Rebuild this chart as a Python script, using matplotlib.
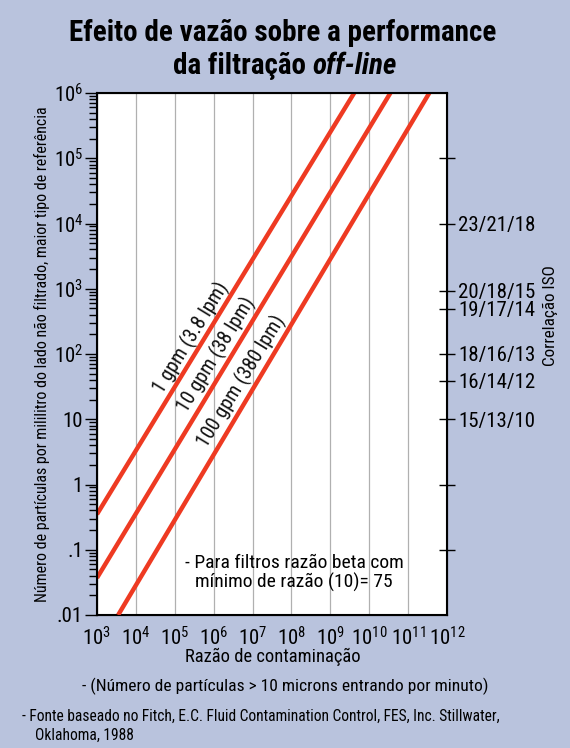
import os
import matplotlib
matplotlib.use("Agg")
import matplotlib.pyplot as plt
import numpy as np
from matplotlib import font_manager
from matplotlib.ticker import LogLocator, NullLocator, FixedLocator

# look for a condensed / narrow sans font, like the original uses
cands = []
for f in font_manager.fontManager.ttflist:
    low = (f.name + ' ' + os.path.basename(f.fname)).lower()
    if f.style != 'normal' or 'mono' in low or 'serif' in low or 'cjk' in low:
        continue
    if 'condensed' in low or 'narrow' in low or f.stretch in ('condensed', 'semi-condensed'):
        cands.append(f)

def rank(f):
    low = f.name.lower()
    for i, key in enumerate(['roboto', 'liberation', 'noto sans', 'open sans', 'dejavu', '']):
        if key in low:
            pen = 0 if f.stretch == 'condensed' or 'condensed' in low or 'narrow' in low else 1
            if 'extra' in os.path.basename(f.fname).lower() or 'semi' in os.path.basename(f.fname).lower():
                pen += 2
            return (i, pen)
    return (99, 9)

if cands:
    best = sorted(cands, key=rank)[0]
    FONT, STRETCH, SC = best.name, best.stretch, 1.0
else:
    FONT, STRETCH, SC = 'Liberation Sans', 'normal', 0.85

plt.rcParams['font.family'] = [FONT, 'DejaVu Sans']
plt.rcParams['font.stretch'] = STRETCH
plt.rcParams['mathtext.fontset'] = 'custom'
plt.rcParams['mathtext.rm'] = '%s:stretch=%s' % (FONT.replace('-', '\\-'), STRETCH)
plt.rcParams['mathtext.it'] = '%s:italic:stretch=%s' % (FONT.replace('-', '\\-'), STRETCH)
plt.rcParams['mathtext.default'] = 'regular'

BG = '#b9c3dd'
RED = '#ee3a22'

# data
flow_labels = ['1 gpm (3.8 lpm)', '10 gpm (38 lpm)', '100 gpm (380 lpm)']
line_x = [[1e3, 4.1e9], [1e3, 3.5e10], [3.5e3, 3.5e11]]
line_y = [[0.35, 1e6], [0.037, 1e6], [0.01, 1e6]]

x_exp = list(range(3, 13))
y_ticks = [1e-2, 1e-1, 1, 10, 1e2, 1e3, 1e4, 1e5, 1e6]
y_ticklabels = ['.01', '.1', '1', '10', '$10^2$', '$10^3$', '$10^4$', '$10^5$', '$10^6$']

iso_ticks = [1e5, 1e4, 930, 490, 100, 39, 10, 1, 0.1]
iso_labels = ['', '23/21/18', '20/18/15', '19/17/14', '18/16/13', '16/14/12', '15/13/10', '', '']

W, H = 570, 748
fig = plt.figure(figsize=(W/100, H/100), dpi=100, facecolor=BG)
ax = fig.add_axes([97/W, 1-615/H, 350/W, 522/H])
ax.set_facecolor('white')
ax.set_xscale('log')
ax.set_yscale('log')
ax.set_xlim(1e3, 1e12)
ax.set_ylim(1e-2, 1e6)

for xs, ys in zip(line_x, line_y):
    ax.plot(xs, ys, color=RED, lw=3.2, solid_capstyle='butt', zorder=3)

# label along each line
lab_pos = [(191, 338), (217, 355), (242, 381)]
for lab, (px, py) in zip(flow_labels, lab_pos):
    dx = 10**(3 + (px-97)/39.0)
    dy = 10**(6 - (py-93)/65.25)
    ax.text(dx, dy, lab, rotation=58.5, rotation_mode='anchor', ha='center', va='center',
            fontsize=14.5*SC, color='#111111', zorder=4)

ax.set_xticks([10.0**e for e in x_exp])
ax.set_xticklabels(['$10^{%d}$' % e for e in x_exp])
ax.xaxis.set_minor_locator(NullLocator())
ax.tick_params(axis='x', length=0, pad=8, labelsize=15*SC)
ax.xaxis.grid(True, color='#b0b0b0', lw=0.9)
ax.set_axisbelow(True)

ax.set_yticks(y_ticks)
ax.set_yticklabels(y_ticklabels)
ax.yaxis.set_minor_locator(LogLocator(base=10, subs=np.arange(2, 10)))
ax.tick_params(axis='y', which='major', direction='out', length=9, width=1, pad=1, labelsize=15*SC)
ax.tick_params(axis='y', which='minor', direction='out', length=6, width=1)

for s in ax.spines.values():
    s.set_linewidth(1.5)

# right axis: ISO correlation
ax2 = ax.twinx()
ax2.set_yscale('log')
ax2.set_ylim(1e-2, 1e6)
ax2.yaxis.set_major_locator(FixedLocator(iso_ticks))
ax2.set_yticklabels(iso_labels)
ax2.yaxis.set_minor_locator(NullLocator())
ax2.tick_params(axis='y', direction='inout', length=11, width=1, pad=2.5, labelsize=15*SC)

fig.text(273/W, 1-657/H, 'Razão de contaminação', ha='center', va='center', fontsize=13.3*SC)
fig.text(285/W, 1-686/H, '- (Número de partículas > 10 microns entrando por minuto)',
         ha='center', va='center', fontsize=12.6*SC)
fig.text(22/W, 1-716/H, '- Fonte baseado no Fitch, E.C. Fluid Contamination Control, FES, Inc. Stillwater,',
         ha='left', va='center', fontsize=11.2*SC)
fig.text(35/W, 1-735/H, 'Oklahoma, 1988', ha='left', va='center', fontsize=11.2*SC)

fig.text(42/W, 1-354/H,
         'Número de partículas por mililitro do lado não filtrado, maior tipo de referência',
         rotation=90, ha='center', va='center', fontsize=11.5*SC)
fig.text(550/W, 1-316/H, 'Correlação ISO', rotation=90, ha='center', va='center', fontsize=12.3*SC)

ax.text(185/W, 1-563/H, '- Para filtros razão beta com', transform=fig.transFigure,
        ha='left', va='center', fontsize=14*SC, zorder=5)
ax.text(195/W, 1-582/H, 'mínimo de razão (10)= 75', transform=fig.transFigure,
        ha='left', va='center', fontsize=14*SC, zorder=5)

# title, second line mixes bold and bold italic
fig.text(283/W, 1-41/H, 'Efeito de vazão sobre a performance', ha='center', va='baseline',
         fontsize=21*SC, fontweight='bold')
r = fig.canvas.get_renderer()
t1 = fig.text(0, 1-74/H, 'da filtração ', ha='left', va='baseline', fontsize=21*SC, fontweight='bold')
t2 = fig.text(0, 1-74/H, 'off-line', ha='left', va='baseline', fontsize=21*SC, fontweight='bold',
              fontstyle='italic')
w1 = t1.get_window_extent(r).width
w2 = t2.get_window_extent(r).width
x0 = 285 - (w1 + w2)/2
t1.set_x(x0/W)
t2.set_x((x0 + w1)/W)

fig.savefig('out.png', dpi=100, facecolor=BG)
